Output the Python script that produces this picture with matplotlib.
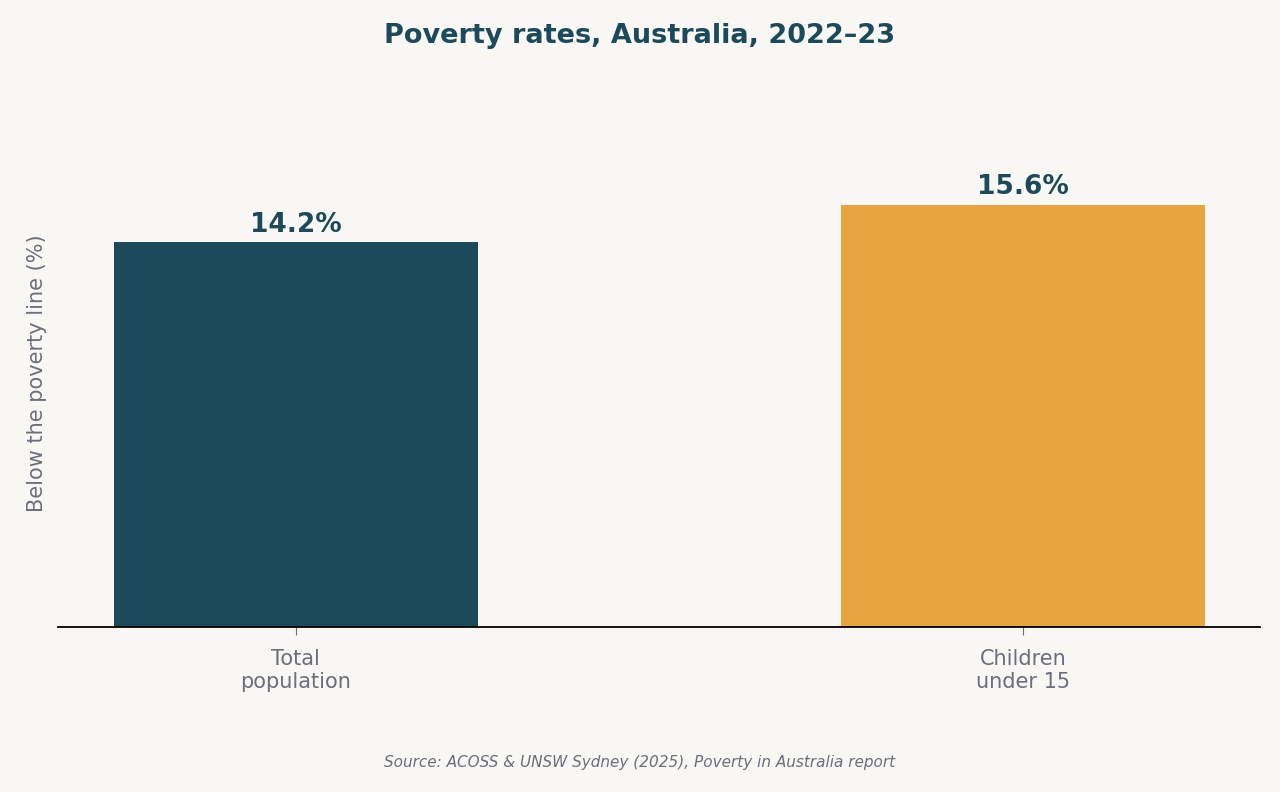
import matplotlib.pyplot as plt

categories = ['Total\npopulation', 'Children\nunder 15']
values = [14.2, 15.6]
labels = ['14.2%', '15.6%']
colors = ['#1d4a5a', '#e8a43e']

bg = '#f8f7f4'
fig = plt.figure(figsize=(12.8, 7.92), dpi=100, facecolor=bg)
ax = fig.add_axes([58/1280, 1-627/792, 1202/1280, 507/792], facecolor=bg)

x = range(len(values))
ax.bar(x, values, width=0.5, color=colors)
for i, v in enumerate(values):
    ax.text(i, v + 0.15, labels[i], ha='center', va='bottom', fontsize=19,
            fontweight='bold', color='#1d4a5a')

ax.set_xlim(-0.327, 1.326)
ax.set_ylim(0, 18.72)
ax.set_xticks(list(x))
ax.set_xticklabels(categories, fontsize=15, color='#6b6f7b')
ax.tick_params(axis='x', colors='#6b6f7b', length=6, pad=10)
ax.set_yticks([])
for s in ['top', 'right', 'left']:
    ax.spines[s].set_visible(False)
ax.spines['bottom'].set_linewidth(1.3)
ax.set_ylabel('Below the poverty line (%)', fontsize=15, color='#6b6f7b', labelpad=8)

fig.text(0.5, 1-36/792, 'Poverty rates, Australia, 2022–23', ha='center', va='center',
         fontsize=19.5, fontweight='bold', color='#1d4a5a')
fig.text(0.5, 1-762/792, 'Source: ACOSS & UNSW Sydney (2025), Poverty in Australia report',
         ha='center', va='center', fontsize=11, style='italic', color='#6b6f7b')

fig.savefig('out.png', dpi=100, facecolor=bg)
